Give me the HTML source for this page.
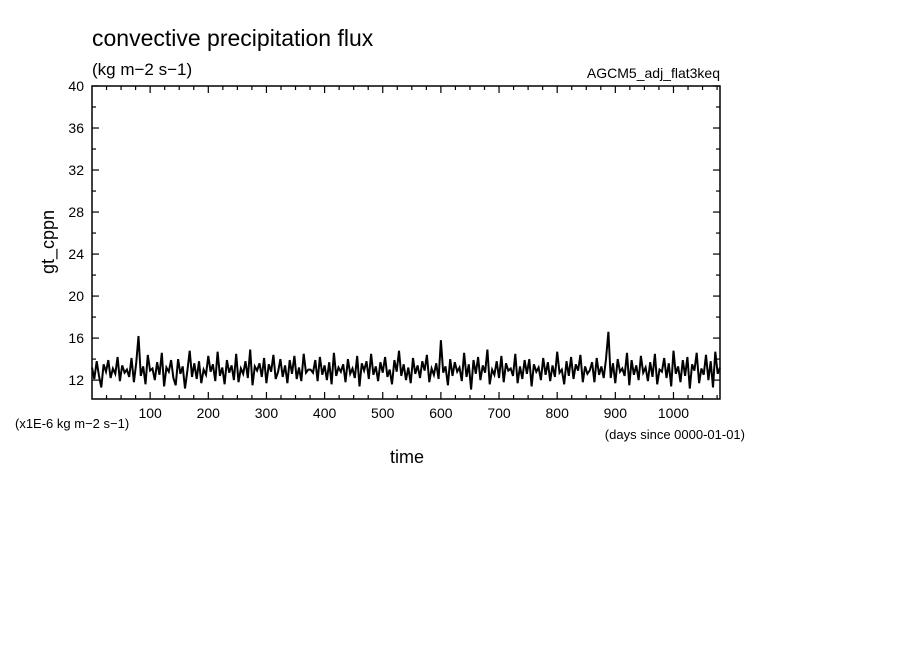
<!DOCTYPE html>
<html><head><meta charset="utf-8"><style>
body{margin:0;background:#fff;}
svg text{font-family:"Liberation Sans",sans-serif;fill:#000;}
</style></head><body>
<svg width="904" height="654" xmlns="http://www.w3.org/2000/svg">
<text x="92" y="46" font-size="23">convective precipitation flux</text>
<text x="92" y="75" font-size="17">(kg m−2 s−1)</text>
<text x="720" y="78" font-size="14" text-anchor="end">AGCM5_adj_flat3keq</text>
<text transform="translate(54,242) rotate(-90)" font-size="18" text-anchor="middle">gt_cppn</text>
<text x="407" y="463" font-size="18" text-anchor="middle">time</text>
<text x="15" y="428" font-size="13">(x1E-6 kg m−2 s−1)</text>
<text x="745" y="439" font-size="13" text-anchor="end">(days since 0000-01-01)</text>
<g id="axes"></g>
<path id="series" fill="none" stroke="#000" stroke-width="2" stroke-linejoin="miter"/>
<rect x="92" y="86" width="628" height="313" fill="none" stroke="#000" stroke-width="1.5"/>
</svg>
<script>
const xTicks=[100,200,300,400,500,600,700,800,900,1000];
const yTicks=[12,16,20,24,28,32,36,40];
const dayStep=4;
const values=[
13.2,12.1,13.8,12.4,11.3,13.5,12.8,13.9,12.2,13.1,12.6,14.2,11.9,13.4,12.7,13.0,12.3,14.1,11.8,13.6,
16.2,12.4,13.3,11.6,14.4,12.9,13.1,12.0,13.7,12.5,14.6,11.4,13.2,12.8,13.9,12.2,11.5,14.0,12.6,13.3,
11.2,12.9,14.8,12.3,13.6,12.1,13.8,11.7,13.0,12.5,14.3,12.8,13.5,11.9,14.7,12.4,13.2,11.6,13.9,12.7,
13.4,12.0,14.5,11.8,13.1,12.6,13.8,12.2,14.9,11.5,13.3,12.9,13.6,12.3,14.1,11.7,13.5,12.8,14.4,12.1,
12.8,14.0,12.3,13.4,11.7,13.9,12.6,14.3,12.1,13.2,11.9,14.5,12.7,13.0,
13.0,12.7,13.9,11.9,14.2,12.5,13.4,12.0,13.7,11.6,14.6,12.4,13.2,12.8,13.5,11.8,14.0,12.6,13.1,12.2,
14.3,11.4,13.6,12.9,13.8,12.1,14.5,12.5,13.3,11.9,13.7,12.7,14.2,12.3,13.0,11.6,13.9,12.8,14.8,12.4,
13.5,12.0,13.2,11.7,14.1,12.6,13.4,12.2,13.8,12.9,14.4,11.8,13.1,12.5,13.6,12.1,15.8,12.7,13.3,11.5,
14.0,12.4,13.7,12.8,13.2,11.9,14.6,12.3,13.5,11.1,13.9,12.6,14.2,12.0,13.4,12.7,14.9,11.6,13.0,12.5,
13.8,12.2,14.3,11.8,13.6,12.9,13.1,12.4,14.5,11.7,13.3,12.1,13.9,12.6,14.0,11.4,13.5,12.8,13.2,12.0,
14.1,12.5,13.7,11.9,13.4,12.3,14.7,12.7,13.0,11.6,13.8,12.4,14.2,12.1,13.5,12.9,14.4,11.8,13.3,12.6,
12.9,13.7,11.8,14.1,12.5,13.3,12.2,14.0,
16.6,12.2,13.6,11.7,14.0,12.8,13.1,12.4,14.6,11.5,13.9,12.5,13.4,12.0,14.3,12.7,13.2,11.9,13.7,12.3,
14.5,11.6,13.0,12.8,14.1,12.2,13.6,11.4,14.8,12.6,13.3,11.8,13.9,12.4,14.2,11.2,13.5,12.9,14.6,11.7,
13.1,12.5,14.4,12.0,13.8,11.3,14.7,12.6,13.2
];
const X0=92,X1=720,Y0=399,Y1=86,xmin=0,xmax=1080,ymin=10.2,ymax=40;
const xs=d=>X0+(d-xmin)/(xmax-xmin)*(X1-X0);
const ys=v=>Y0-(v-ymin)/(ymax-ymin)*(Y0-Y1);
const NS='http://www.w3.org/2000/svg';
const g=document.getElementById('axes');
function line(x1,y1,x2,y2,name){const l=document.createElementNS(NS,'line');
l.setAttribute('x1',x1);l.setAttribute('y1',y1);l.setAttribute('x2',x2);l.setAttribute('y2',y2);
l.setAttribute('stroke','#000');l.setAttribute('stroke-width','1.2');


g.appendChild(l);}
function text(x,y,s,anchor,name){const t=document.createElementNS(NS,'text');
t.setAttribute('x',x);t.setAttribute('y',y);t.setAttribute('font-size','14');t.setAttribute('text-anchor',anchor);t.textContent=s;


g.appendChild(t);}
for(let d=25;d<xmax;d+=25){const maj=d%100===0;const L=maj?7:4;const x=xs(d);
line(x,Y0,x,Y0-L,'x-tick');line(x,Y1,x,Y1+L,'x-tick-top');}
xTicks.forEach(d=>text(xs(d),418,String(d),'middle','x-tick-label'));
for(let v=12;v<=40;v+=2){const maj=v%4===0;const L=maj?7:4;const y=ys(v);
line(X0,y,X0+L,y,'y-tick');line(X1,y,X1-L,y,'y-tick-right');}
yTicks.forEach(v=>text(84,ys(v)+5,String(v),'end','y-tick-label'));
let p='';values.forEach((v,i)=>{p+=(i?'L':'M')+xs(i*dayStep).toFixed(1)+' '+ys(v).toFixed(1);});
document.getElementById('series').setAttribute('d',p);
</script>
</body></html>
